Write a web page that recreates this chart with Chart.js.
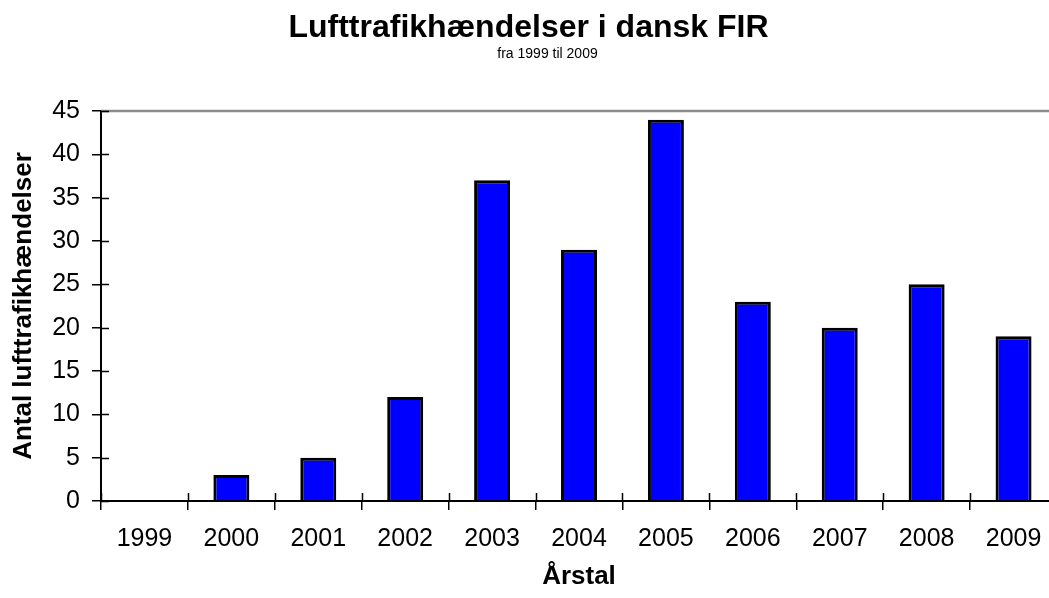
<!DOCTYPE html>
<html>
<head>
    <title>Lufttrafikhændelser i dansk FIR</title>
    <script src="https://cdn.jsdelivr.net/npm/chart.js@4"></script>
    <style>
        body { margin: 0; background: #fff; overflow: hidden; }
        #wrap { width: 1049px; height: 598px; overflow: hidden; }
    </style>
</head>
<body>
<div id="wrap"><canvas id="firChart" width="1057" height="598"></canvas></div>

<script>
    // antal hændelser pr. år
    const years = ['1999', '2000', '2001', '2002', '2003', '2004', '2005', '2006', '2007', '2008', '2009'];
    const incidents = [0, 3, 5, 12, 37, 29, 44, 23, 20, 25, 19];
    const yTicks = [0, 5, 10, 15, 20, 25, 30, 35, 40, 45];

    const FONT = "'Liberation Sans', Arial, sans-serif";

    // små tick-streger inde i plotområdet, grå topkant og undertitel
    const axisDecor = {
        id: 'axisDecor',
        afterDatasetsDraw(chart) {
            const { ctx, chartArea, scales: { x, y } } = chart;
            ctx.save();

            ctx.strokeStyle = '#8c8c8c';
            ctx.lineWidth = 2.5;
            ctx.beginPath();
            ctx.moveTo(chartArea.left, chartArea.top);
            ctx.lineTo(chartArea.right, chartArea.top);
            ctx.stroke();

            ctx.strokeStyle = '#000';
            ctx.lineWidth = 1.5;
            ctx.beginPath();
            for (let i = 0; i <= years.length; i++) {
                const px = Math.round(x.getPixelForValue(i - 0.5)) + 0.5;
                ctx.moveTo(px, chartArea.bottom);
                ctx.lineTo(px, chartArea.bottom - 8);
            }
            y.ticks.forEach(t => {
                const py = Math.round(y.getPixelForValue(t.value)) + 0.5;
                ctx.moveTo(chartArea.left, py);
                ctx.lineTo(chartArea.left + 8, py);
            });
            ctx.stroke();

            ctx.fillStyle = '#000';
            ctx.font = '14px ' + FONT;
            ctx.textAlign = 'center';
            ctx.textBaseline = 'middle';
            ctx.fillText('fra 1999 til 2009', chart.width / 2 + 19, 54.5);
            ctx.restore();
        }
    };

    const ctx = document.getElementById('firChart').getContext('2d');
    new Chart(ctx, {
        type: 'bar',
        data: {
            labels: years,
            datasets: [{
                data: incidents,
                backgroundColor: '#0000FF',
                borderColor: '#000',
                borderWidth: 3,
                barPercentage: 0.414,
                categoryPercentage: 1
            }]
        },
        options: {
            responsive: false,
            animation: false,
            layout: { padding: 0 },
            plugins: {
                legend: { display: false },
                tooltip: { enabled: false },
                title: {
                    display: true,
                    text: 'Lufttrafikhændelser i dansk FIR',
                    color: '#000',
                    font: { family: FONT, size: 32, weight: 'bold', lineHeight: 1.2 },
                    padding: { top: 8.7, bottom: 63.9 }
                }
            },
            scales: {
                x: {
                    grid: { offset: true, drawOnChartArea: false, tickLength: 9, color: '#000', lineWidth: 1.5 },
                    border: { color: '#000', width: 2 },
                    ticks: {
                        color: '#000',
                        font: { family: FONT, size: 25 },
                        padding: 14,
                        maxRotation: 0,
                        autoSkip: false
                    },
                    title: {
                        display: true,
                        text: 'Årstal',
                        color: '#000',
                        font: { family: FONT, size: 26, weight: 'bold', lineHeight: 1.2 },
                        padding: { top: 0, bottom: 5.4 }
                    },
                    afterFit(scale) { scale.height = 97; }
                },
                y: {
                    min: yTicks[0],
                    max: yTicks[yTicks.length - 1],
                    grid: { drawOnChartArea: false, tickLength: 9, color: '#000', lineWidth: 1.5 },
                    border: { color: '#000', width: 2 },
                    ticks: {
                        stepSize: yTicks[1] - yTicks[0],
                        color: '#000',
                        font: { family: FONT, size: 25 },
                        padding: 12
                    },
                    title: {
                        display: true,
                        text: 'Antal lufttrafikhændelser',
                        color: '#000',
                        font: { family: FONT, size: 26, weight: 'bold', lineHeight: 1.2 },
                        padding: { top: 8.4, bottom: 0 }
                    },
                    afterFit(scale) { scale.width = 101; }
                }
            }
        },
        plugins: [axisDecor]
    });
</script>
</body>
</html>
